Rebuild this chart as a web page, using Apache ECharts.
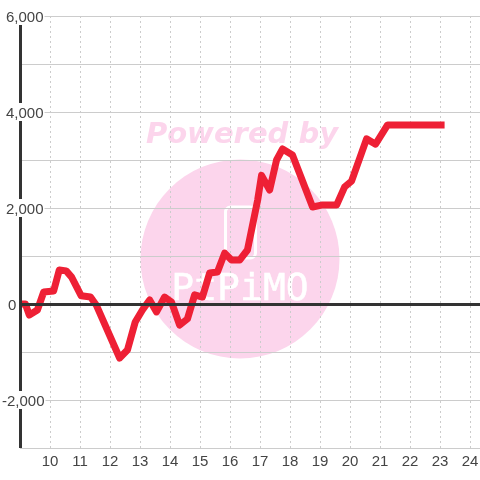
<!DOCTYPE html>
<html>
<head>
<meta charset="utf-8">
<script src="https://cdn.jsdelivr.net/npm/echarts@6/dist/echarts.min.js"></script>
<style>html,body{margin:0;padding:0;background:#fff}#c{width:480px;height:480px}</style>
</head>
<body>
<div id="c"></div>
<script>
const hours = [9.0,9.18,9.31,9.58,9.79,10.12,10.31,10.54,10.72,11.04,11.35,11.54,12.32,12.58,12.84,13.08,13.32,13.55,13.82,14.05,14.32,14.58,14.82,15.08,15.32,15.58,15.82,16.05,16.32,16.58,16.92,17.05,17.32,17.55,17.75,18.08,18.75,19.05,19.55,19.82,20.05,20.55,20.85,21.25,23.15];
const values = [0,0,-230,-125,250,270,710,690,560,170,145,-20,-1125,-960,-375,-125,85,-165,145,40,-440,-310,190,145,645,665,1060,915,915,1125,2165,2680,2375,3000,3230,3105,2020,2060,2060,2440,2560,3440,3330,3730,3730];
const xTicks = [10,11,12,13,14,15,16,17,18,19,20,21,22,23,24];
const yTickLabels = {'6000':'6,000','4000':'4,000','2000':'2,000','0':'0','-2000':'-2,000'};
const xMin = 9, xMax = 24.33, yMin = -3000, yMax = 6000, yAxisTop = 5833;

const chart = echarts.init(document.getElementById('c'), null, {renderer:'canvas'});
const labelColor = '#444';
const labelFont = {color:labelColor,fontFamily:'"Liberation Sans"',fontSize:15,backgroundColor:'#fff',lineHeight:17};
chart.setOption({
  animation:false,
  backgroundColor:'#fff',
  graphic:{elements:[
    {type:'circle',z:-5,silent:true,shape:{cx:240,cy:259,r:99.5},style:{fill:'#fcd5ec'}},
    {type:'text',z:-5,silent:true,x:242,y:135,style:{text:'Powered by',fill:'#fcd5ec',font:'italic bold 29px "DejaVu Sans"',textAlign:'center',textVerticalAlign:'middle'}},
    {type:'rect',z:-4,silent:true,shape:{x:225.5,y:207,width:30,height:51,r:5},style:{fill:'none',stroke:'#fff',lineWidth:3}},
    {type:'text',z:-4,silent:true,x:240,y:290,style:{text:'PtPiMO',fill:'#fff',stroke:'#fff',lineWidth:0.5,font:'38px "DejaVu Sans Mono"',textAlign:'center',textVerticalAlign:'middle'}}
  ]},
  grid:{left:20,right:0,top:16,bottom:32,containLabel:false,outerBoundsMode:'none'},
  xAxis:{type:'value',min:xMin,max:xMax,interval:1,
    axisLine:{show:false},axisTick:{show:false},
    axisLabel:{show:true,color:labelColor,fontFamily:'"Liberation Sans"',fontSize:15,margin:6,showMinLabel:true,showMaxLabel:true,
      formatter:v=>xTicks.includes(v)?String(v):''},
    splitLine:{show:true,lineStyle:{color:'#ccc',width:1,type:[2,3]}}
  },
  yAxis:[
    {type:'value',min:yMin,max:yMax,interval:1000,z:0,
      axisLine:{show:false},axisTick:{show:false},axisLabel:{show:false},
      splitLine:{show:true,lineStyle:{color:'#ccc',width:1}}},
    {type:'value',min:yMin,max:yMax,interval:1000,z:10,position:'left',
      axisLine:{show:false},axisTick:{show:false},splitLine:{show:false},
      axisLabel:{show:true,align:'left',margin:18,
        formatter:v=>{
          const t=yTickLabels[String(v)];
          if(!t) return '';
          const s=v===0?'z':(v<0?'n':'p');
          return '{'+s+'|'+t+'}';
        },
        rich:{
          p:Object.assign({},labelFont,{padding:[3,1,0,4]}),
          n:Object.assign({},labelFont,{padding:[3,1,0,0]}),
          z:Object.assign({},labelFont,{padding:[3,0,0,6]})
        }}}
  ],
  series:[
    {type:'line',z:1,yAxisIndex:0,data:[],silent:true,
      markLine:{silent:true,symbol:'none',animation:false,label:{show:false},
        lineStyle:{color:'#333',width:3,type:'solid'},
        data:[[{coord:[xMin,yMin]},{coord:[xMin,yAxisTop]}],[{coord:[xMin,0]},{coord:[xMax,0]}]]}},
    {type:'line',z:2,yAxisIndex:0,showSymbol:false,symbol:'none',smooth:false,clip:false,
      lineStyle:{color:'#ee2035',width:7,join:'round',cap:'butt'},
      data:hours.map((h,i)=>[h,values[i]])}
  ]
});
</script>
</body>
</html>
